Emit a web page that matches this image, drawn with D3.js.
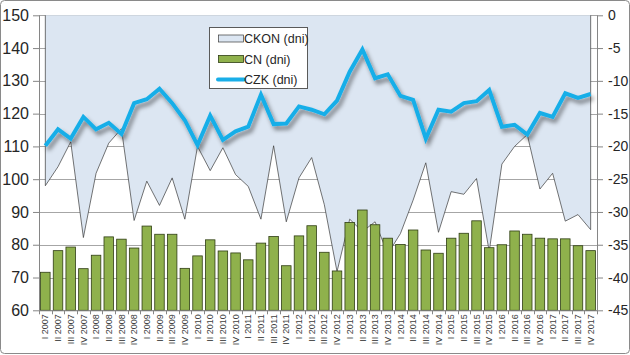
<!DOCTYPE html>
<html>
<head>
<meta charset="utf-8">
<script src="https://cdn.jsdelivr.net/npm/d3@7"></script>
<style>
  html, body { margin: 0; padding: 0; background: #fff; }
  svg { display: block; }
  text { font-family: "Liberation Sans", Arial, sans-serif; }
</style>
</head>
<body>
<svg id="chart" width="630" height="355"></svg>
<script>
const categories = [
  "I 2007","II 2007","III 2007","IV 2007",
  "I 2008","II 2008","III 2008","IV 2008",
  "I 2009","II 2009","III 2009","IV 2009",
  "I 2010","II 2010","III 2010","IV 2010",
  "I 2011","II 2011","III 2011","IV 2011",
  "I 2012","II 2012","III 2012","IV 2012",
  "I 2013","II 2013","III 2013","IV 2013",
  "I 2014","II 2014","III 2014","IV 2014",
  "I 2015","II 2015","III 2015","IV 2015",
  "I 2016","II 2016","III 2016","IV 2016",
  "I 2017","II 2017","III 2017","IV 2017"
];
// CKON (dni) – secondary axis (negative values)
const ckon = [
  -26.0, -23.1, -19.3, -33.9, -24.1, -19.5, -17.3, -31.3,
  -25.3, -29.0, -24.8, -31.1, -20.0, -23.7, -20.2, -24.3,
  -26.1, -31.1, -19.9, -31.5, -24.8, -21.7, -28.9, -39.1,
  -31.1, -33.0, -31.5, -36.4, -33.3, -28.2, -22.5, -33.1,
  -26.9, -27.3, -24.9, -36.0, -22.7, -20.0, -18.2, -26.5,
  -24.1, -31.4, -30.4, -32.7
];
// CN (dni) – primary axis
const cn = [
  71.6, 78.2, 79.3, 72.7, 76.8, 82.4, 81.7, 79.0,
  85.7, 83.2, 83.2, 72.8, 76.6, 81.5, 78.1, 77.5,
  75.4, 80.5, 82.5, 73.6, 82.7, 85.8, 77.7, 72.0,
  86.8, 90.6, 86.1, 82.0, 80.1, 84.5, 78.4, 77.4,
  82.0, 83.5, 87.3, 79.1, 80.0, 84.2, 83.2, 82.0,
  81.8, 81.8, 79.7, 78.2
];
// CZK (dni) – secondary axis
const czk = [
  -19.9, -17.4, -18.8, -15.5, -17.4, -16.4, -18.1, -13.4,
  -12.8, -11.2, -13.4, -16.0, -19.8, -15.3, -19.0, -17.7,
  -17.0, -12.1, -16.6, -16.5, -13.9, -14.4, -15.1, -13.0,
  -8.6, -5.2, -9.6, -9.0, -12.3, -12.9, -18.8, -14.4,
  -14.7, -13.4, -13.1, -11.4, -17.0, -16.7, -18.2, -14.9,
  -15.5, -11.9, -12.6, -12.0
];
const leftTicks = [60, 70, 80, 90, 100, 110, 120, 130, 140, 150];
const rightTicks = [0, -5, -10, -15, -20, -25, -30, -35, -40, -45];
const seriesNames = ["CKON (dni)", "CN (dni)", "CZK (dni)"];

const W = 630, H = 355;
const plot = { left: 39, right: 597, top: 15.3, bottom: 310.3 };
const svg = d3.select("#chart");

// outer border
svg.append("rect").attr("x", 0.5).attr("y", 0.5).attr("width", W - 1).attr("height", H - 2)
  .attr("rx", 4).attr("fill", "#fff").attr("stroke", "#8a8a8a").attr("stroke-width", 1);

const x = d3.scaleBand().domain(categories).range([plot.left, plot.right])
  .paddingInner(0.25).paddingOuter(0.125);
const cx = c => x(c) + x.bandwidth() / 2;
const yL = d3.scaleLinear().domain([60, 150]).range([plot.bottom, plot.top]);
const yR = d3.scaleLinear().domain([-45, 0]).range([plot.bottom, plot.top]);

// drop shadow filter
const defs = svg.append("defs");
const f = defs.append("filter").attr("id", "shadow").attr("x", "-10%").attr("y", "-10%")
  .attr("width", "130%").attr("height", "140%");
f.append("feDropShadow").attr("dx", 2.5).attr("dy", 4).attr("stdDeviation", 2)
  .attr("flood-color", "#000").attr("flood-opacity", 0.45);

// gridlines
svg.append("g").selectAll("line").data(leftTicks).join("line")
  .attr("x1", plot.left).attr("x2", plot.right)
  .attr("y1", d => Math.round(yL(d)) + 0.5).attr("y2", d => Math.round(yL(d)) + 0.5)
  .attr("stroke", "#a6a6a6").attr("stroke-width", 1);

// CKON area
const areaGen = d3.area()
  .x((d, i) => cx(categories[i]))
  .y0(yR(0))
  .y1(d => yR(d));
const pts = ckon.map((d, i) => [cx(categories[i]), yR(d)]);
svg.append("path").datum(ckon).attr("d", areaGen)
  .attr("fill", "#dce6f2").attr("stroke", "none");
const outline = [[pts[0][0], yR(0)], ...pts, [pts[pts.length - 1][0], yR(0)]];
svg.append("path").attr("d", d3.line()(outline))
  .attr("fill", "none").attr("stroke", "#3a3a3a").attr("stroke-width", 0.7);

// CN bars
svg.append("g").selectAll("rect").data(cn).join("rect")
  .attr("x", (d, i) => x(categories[i]))
  .attr("width", x.bandwidth())
  .attr("y", d => yL(d))
  .attr("height", d => yL(60) - yL(d))
  .attr("fill", "#8fb14c").attr("stroke", "#2f3d14").attr("stroke-width", 0.8);

// CZK line
svg.append("path").datum(czk)
  .attr("d", d3.line().x((d, i) => cx(categories[i])).y(d => yR(d)))
  .attr("fill", "none").attr("stroke", "#19aee8").attr("stroke-width", 4)
  .attr("stroke-linejoin", "miter").attr("filter", "url(#shadow)");

// axes
const axisColor = "#868686";
const lAxis = svg.append("g").attr("transform", `translate(${plot.left},0)`)
  .call(d3.axisLeft(yL).tickValues(leftTicks).tickSize(6).tickPadding(4).tickFormat(d => String(d)));
const rAxis = svg.append("g").attr("transform", `translate(${plot.right},0)`)
  .call(d3.axisRight(yR).tickValues(rightTicks).tickSize(6).tickPadding(5).tickFormat(d => String(d)));
[lAxis, rAxis].forEach(g => {
  g.select(".domain").attr("stroke", axisColor).attr("d", `M0.5,${plot.top}V${plot.bottom}`);
  g.selectAll(".tick line").attr("stroke", axisColor);
  g.selectAll(".tick text").attr("fill", "#262626");
});
lAxis.selectAll(".tick text").style("font-size", "16px");
rAxis.selectAll(".tick text").style("font-size", "14px");

const bAxis = svg.append("g").attr("transform", `translate(0,${plot.bottom})`)
  .call(d3.axisBottom(x).tickSize(0).tickPadding(0));
bAxis.select(".domain").attr("stroke", axisColor).attr("d", `M${plot.left},0.5H${plot.right}`);
bAxis.selectAll(".tick text")
  .attr("transform", "rotate(-90)")
  .attr("text-anchor", "end")
  .attr("x", -4).attr("y", 0).attr("dy", "0.35em")
  .attr("fill", "#404040").style("font-size", "9px");
// category boundary ticks
const bounds = d3.range(categories.length + 1).map(i => plot.left + i * (plot.right - plot.left) / categories.length);
svg.append("g").selectAll("line").data(bounds).join("line")
  .attr("x1", d => Math.round(d) + 0.5).attr("x2", d => Math.round(d) + 0.5)
  .attr("y1", plot.bottom).attr("y2", plot.bottom + 4)
  .attr("stroke", axisColor);

// legend
const lg = svg.append("g").attr("transform", "translate(209,27)");
lg.append("rect").attr("x", 0.5).attr("y", 0.5).attr("width", 98).attr("height", 61)
  .attr("fill", "#fff").attr("stroke", "#5a5a5a").attr("stroke-width", 1);
const rowY = [11.5, 32, 52.5];
lg.append("rect").attr("x", 9.5).attr("y", rowY[0] - 3.5).attr("width", 25).attr("height", 7)
  .attr("fill", "#dce6f2").attr("stroke", "#3a3a3a").attr("stroke-width", 0.7);
lg.append("rect").attr("x", 9.5).attr("y", rowY[1] - 3.5).attr("width", 25).attr("height", 7)
  .attr("fill", "#8fb14c").attr("stroke", "#2f3d14").attr("stroke-width", 0.8);
lg.append("line").attr("x1", 9).attr("x2", 35).attr("y1", rowY[2]).attr("y2", rowY[2])
  .attr("stroke", "#19aee8").attr("stroke-width", 4).attr("stroke-linecap", "round");
lg.selectAll("text.lt").data(seriesNames).join("text").attr("class", "lt")
  .attr("x", 35).attr("y", (d, i) => rowY[i]).attr("dy", "0.36em")
  .attr("fill", "#262626").style("font-size", "12.5px").text(d => d);
</script>
</body>
</html>
